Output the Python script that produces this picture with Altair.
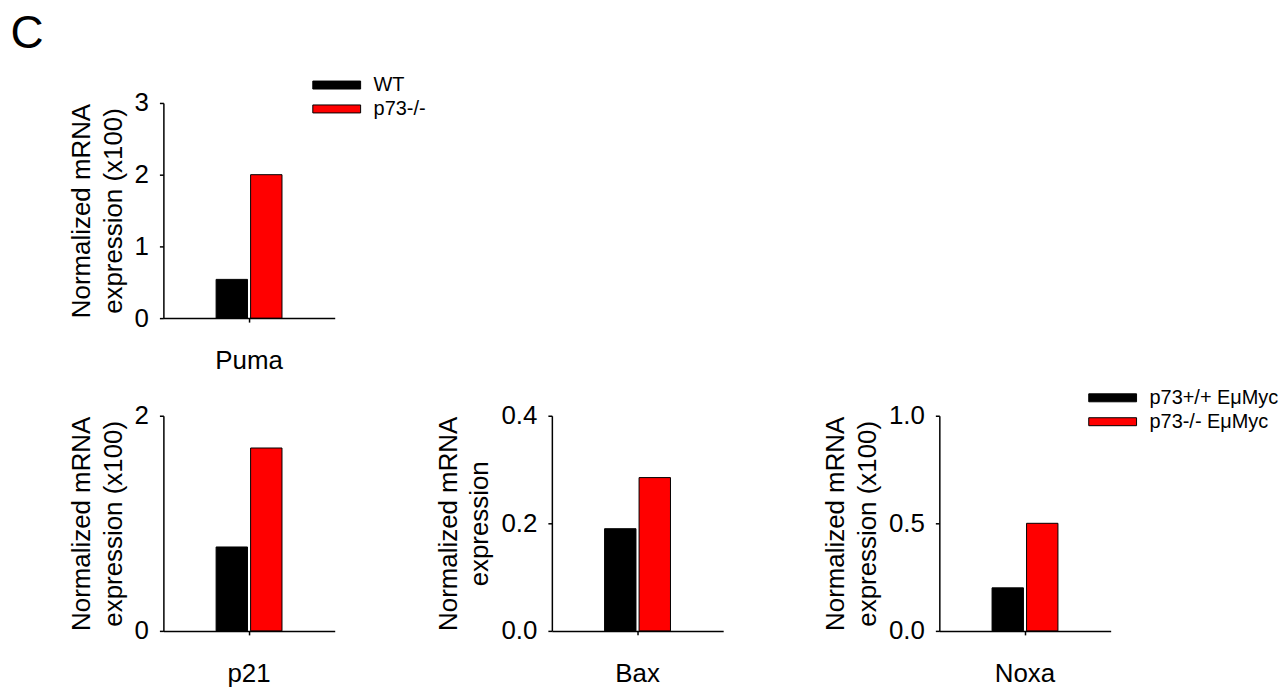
import altair as alt
import pandas as pd

FONT = "Liberation Sans"

genes = ["Puma", "p21", "Bax", "Noxa"]
top_groups = ["WT", "p73-/-"]
bottom_groups = ["p73+/+ E\u03bcMyc", "p73-/- E\u03bcMyc"]
puma_values = [0.54, 2.0]
p21_values = [0.78, 1.70]
bax_values = [0.19, 0.285]
noxa_values = [0.20, 0.50]
y_domains = {"Puma": [0, 3], "p21": [0, 2], "Bax": [0, 0.4], "Noxa": [0, 1.0]}
y_ticks = {"Puma": [0, 1, 2, 3], "p21": [0, 1, 2], "Bax": [0.0, 0.2, 0.4], "Noxa": [0.0, 0.5, 1.0]}
y_formats = {"Puma": "d", "p21": "d", "Bax": ".1f", "Noxa": ".1f"}
y_titles = {
    "Puma": ["Normalized  mRNA", "expression (x100)"],
    "p21": ["Normalized mRNA", "expression (x100)"],
    "Bax": ["Normalized mRNA", "expression"],
    "Noxa": ["Normalized mRNA", "expression (x100)"],
}
bar_colors = ["#000000", "#ff0000"]

W, H = 172, 216

legend_symbol = "M-3,-0.5H3V0.5H-3Z"


def panel(gene, values, groups, show_legend):
    df = pd.DataFrame({"gene": [gene] * 2, "genotype": groups, "value": values})
    if show_legend:
        legend = alt.Legend(
            title=None,
            orient="none",
            legendX=164,
            legendY=-28,
            symbolType=legend_symbol,
            symbolSize=256,
            symbolStrokeColor="black",
            symbolStrokeWidth=1,
            symbolOpacity=1,
            labelFontSize=20,
            labelFont=FONT,
            labelColor="black",
            labelOffset=27,
            rowPadding=4,
            padding=0,
        )
    else:
        legend = None
    return (
        alt.Chart(df)
        .mark_bar(stroke="black", strokeWidth=1, opacity=1)
        .encode(
            x=alt.X(
                "gene:N",
                scale=alt.Scale(paddingInner=0, paddingOuter=0.8),
                axis=alt.Axis(
                    title=None,
                    labelAngle=0,
                    labelPadding=26,
                    tickSize=4,
                ),
            ),
            xOffset=alt.XOffset(
                "genotype:N",
                sort=groups,
                scale=alt.Scale(domain=groups, paddingInner=0.09, paddingOuter=0),
            ),
            y=alt.Y(
                "value:Q",
                scale=alt.Scale(domain=y_domains[gene], nice=False, zero=True),
                axis=alt.Axis(
                    values=y_ticks[gene],
                    format=y_formats[gene],
                    title=y_titles[gene],
                    titlePadding=8,
                    labelPadding=11,
                    tickSize=4,
                    grid=False,
                ),
            ),
            color=alt.Color(
                "genotype:N",
                sort=groups,
                scale=alt.Scale(domain=groups, range=bar_colors),
                legend=legend,
            ),
        )
        .properties(width=W, height=H)
    )


puma = panel("Puma", puma_values, top_groups, True)
p21 = panel("p21", p21_values, bottom_groups, False)
bax = panel("Bax", bax_values, bottom_groups, False)
noxa = panel("Noxa", noxa_values, bottom_groups, True)

res = dict(y="independent", x="independent", color="independent", xOffset="independent")
left_pair = alt.hconcat(p21, bax, spacing=100).resolve_scale(**res)
bottom = alt.hconcat(left_pair, noxa, spacing=99).resolve_scale(**res)

chart = (
    alt.vconcat(puma, bottom, spacing=14)
    .resolve_scale(**res)
    .properties(
        title=alt.TitleParams(
            "C", anchor="start", fontSize=46, font=FONT, fontWeight="normal",
            color="black", dx=-58, offset=17,
        ),
        padding={"left": 2, "top": 2, "right": 0, "bottom": 0},
    )
    .configure_view(stroke=None)
    .configure_axis(
        labelFont=FONT,
        titleFont=FONT,
        labelFontSize=26,
        titleFontSize=26,
        titleFontWeight="normal",
        titleLineHeight=32,
        labelColor="black",
        titleColor="black",
        domainColor="black",
        tickColor="black",
        domainWidth=1.5,
        tickWidth=1.5,
    )
)

chart.save("out.html", embed_options={"renderer": "svg", "actions": False})
